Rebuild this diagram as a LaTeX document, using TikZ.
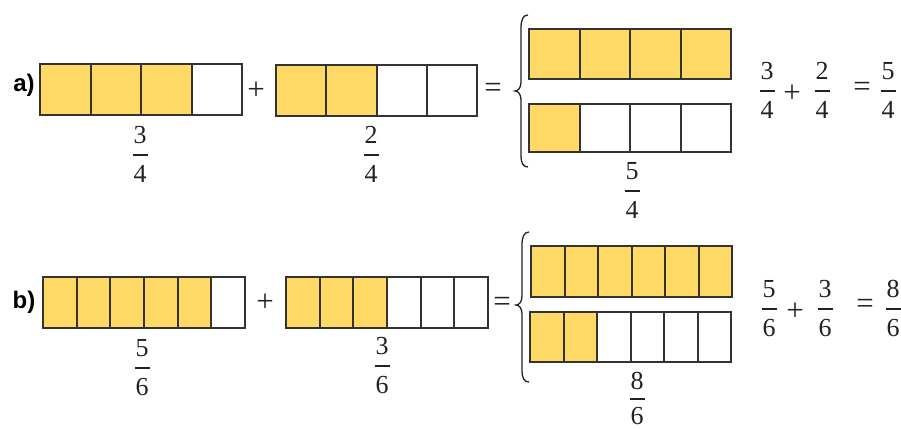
\documentclass[tikz,border=0pt]{standalone}
\usepackage{fontspec}
\setmainfont{Liberation Serif}
\newfontfamily\labfont{Liberation Sans}
\definecolor{cellyellow}{HTML}{FFD966}
\definecolor{cellline}{HTML}{333333}
\definecolor{txt}{HTML}{222222}
\newcommand\stripbar[7]{% name, x0, y0, x1, y1, n, k
  \pgfmathsetmacro\cw{(#4-#2)/#6}
  \foreach \i in {1,...,#6}{
    \pgfmathsetmacro\xa{round(#2+(\i-1)*\cw)}
    \pgfmathsetmacro\xb{round(#2+\i*\cw)}
    \ifnum\i>#7\relax
      \fill[white] (\xa,#3) rectangle (\xb,#5);
    \else
      \fill[cellyellow] (\xa,#3) rectangle (\xb,#5);
    \fi
  }
  \foreach \i in {1,...,#6}{
    \pgfmathsetmacro\xa{round(#2+\i*\cw)}
    \draw[cellbox] (\xa,#3) -- (\xa,#5);
  }
  \draw[cellbox] (#2,#3) rectangle (#4,#5);
  \coordinate (#1) at ({(#2+#4)/2},{(#3+#5)/2});
}
\newcommand\fracnode[7]{% name, x, ybar, num, den, up gap, down gap
  \node[digit] (#1n) at (#2,#3-#6) {#4};
  \node[digit] (#1d) at (#2,#3+#7) {#5};
  \coordinate (#1l) at (#2-7.5,#3);
  \coordinate (#1r) at (#2+7.5,#3);
  \draw[fracline] (#1l) -- (#1r);
}
\begin{document}
\begin{tikzpicture}[x=1pt,y=-1pt,
  cellbox/.style={draw=cellline,line width=1.6pt},
  digit/.style={inner sep=0pt,text=txt,font=\fontsize{26}{30}\selectfont},
  opsym/.style={inner sep=0pt,text=txt,font=\fontsize{31}{34}\selectfont},
  lab/.style={inner sep=0pt,anchor=base,text=black,font=\labfont\bfseries\fontsize{24}{28}\selectfont},
  fracline/.style={draw=txt,line width=1.3pt},
  bracepath/.style={draw=txt,line width=1.3pt}]
\useasboundingbox (0,0) rectangle (901,430);
% ---------- a) ----------
\node[lab] (la) at (24,92) {a)};
\stripbar{a1}{40}{64}{242}{115}{4}{3}
\node[opsym] (pa) at (256,91) {+};
\stripbar{a2}{276}{65}{477}{116}{4}{2}
\node[opsym] (ea) at (493,90) {=};
\draw[bracepath] (528,15) .. controls (523,15) and (521,20) .. (521,28) -- (521,82)
  .. controls (521,88) and (518,91) .. (515,91)
  .. controls (518,91) and (521,94) .. (521,100) -- (521,155)
  .. controls (521,163) and (523,167) .. (528,167);
\stripbar{a3}{529}{29}{731}{79}{4}{4}
\stripbar{a4}{529}{104}{731}{152}{4}{1}
\fracnode{fa1}{140}{155}{3}{4}{20}{19}
\fracnode{fa2}{371}{155}{2}{4}{20}{19}
\fracnode{fa3}{632}{191}{5}{4}{20}{19}
\fracnode{fa4}{767}{91}{3}{4}{20}{19}
\node[opsym] (pa2) at (792,94) {+};
\fracnode{fa5}{822}{91}{2}{4}{20}{19}
\node[opsym] (ea2) at (862,89) {=};
\fracnode{fa6}{888}{91}{5}{4}{20}{19}
% ---------- b) ----------
\node[lab] (lb) at (24,308) {b)};
\stripbar{b1}{43}{277}{245}{328}{6}{5}
\node[opsym] (pb) at (265,303) {+};
\stripbar{b2}{286}{277}{488}{328}{6}{3}
\node[opsym] (eb) at (502,304) {=};
\draw[bracepath] (529,232) .. controls (524,232) and (522,237) .. (522,245) -- (522,296)
  .. controls (522,302) and (519,305) .. (516,305)
  .. controls (519,305) and (522,308) .. (522,314) -- (522,370)
  .. controls (522,378) and (524,382) .. (529,382);
\stripbar{b3}{531}{246}{732}{297}{6}{6}
\stripbar{b4}{530}{312}{731}{362}{6}{2}
\fracnode{fb1}{142}{368}{5}{6}{20}{19}
\fracnode{fb2}{382}{366}{3}{6}{20}{19}
\fracnode{fb3}{637}{399}{8}{6}{18}{17}
\fracnode{fb4}{769}{309}{5}{6}{20}{19}
\node[opsym] (pb2) at (795,312) {+};
\fracnode{fb5}{825}{309}{3}{6}{20}{19}
\node[opsym] (eb2) at (865,306) {=};
\fracnode{fb6}{893}{309}{8}{6}{20}{19}
\end{tikzpicture}
\end{document}
